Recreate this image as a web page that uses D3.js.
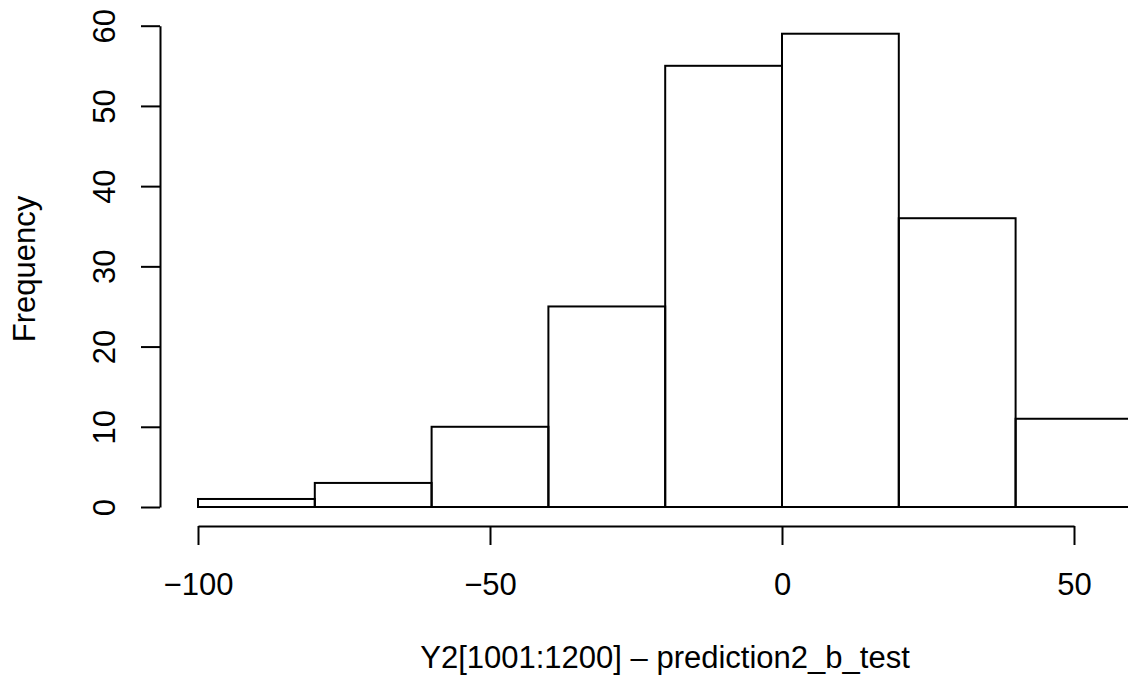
<!DOCTYPE html>
<html>
<head>
  <meta charset="utf-8">
  <style>
  body { margin: 0; background: #fff; }
  text { font-family: "Liberation Sans", Arial, Helvetica, sans-serif; fill: #000; }
  </style>
  <script src="https://d3js.org/d3.v7.min.js"></script>
</head>
<body>
<script>
// histogram bins (left edges, width 20) and counts
var binStarts = [-100, -80, -60, -40, -20, 0, 20, 40];
var binWidth = 20;
var counts = [1, 3, 10, 25, 55, 59, 36, 11];
var xTicks = [-100, -50, 0, 50];
var yTicks = [0, 10, 20, 30, 40, 50, 60];
var xTitle = "Y2[1001:1200] \u2013 prediction2_b_test";
var yTitle = "Frequency";

var canvasWidth = 1128, canvasHeight = 682;
var fontSize = 31;

var svg = d3.select("body").append("svg")
    .attr("width", canvasWidth)
    .attr("height", canvasHeight);

var x = d3.scaleLinear().domain([-100, 50]).range([198, 1074]);
var y = d3.scaleLinear().domain([0, 60]).range([507, 25.7]);

var bars = binStarts.map(function(s, i) { return {x0: s, x1: s + binWidth, n: counts[i]}; });

svg.append("g").selectAll("rect")
    .data(bars)
    .enter().append("rect")
    .attr("x", function(d) { return x(d.x0); })
    .attr("y", function(d) { return y(d.n); })
    .attr("width", function(d) { return x(d.x1) - x(d.x0); })
    .attr("height", function(d) { return y(0) - y(d.n); })
    .attr("fill", "none")
    .attr("stroke", "#000")
    .attr("stroke-width", 2);

// x axis
var xAxis = svg.append("g")
    .attr("transform", "translate(0,526)")
    .call(d3.axisBottom(x).tickValues(xTicks).tickSize(19).tickSizeOuter(0));
xAxis.select(".domain").attr("stroke-width", 2);
xAxis.selectAll(".tick line").attr("stroke-width", 2);
xAxis.selectAll(".tick text")
    .attr("y", 69).attr("dy", 0)
    .attr("font-size", fontSize)
    .attr("font-family", "Liberation Sans, Arial, sans-serif");

// y axis
var yAxis = svg.append("g")
    .attr("transform", "translate(160,0)")
    .call(d3.axisLeft(y).tickValues(yTicks).tickSize(19).tickSizeOuter(0));
yAxis.select(".domain").attr("stroke-width", 2);
yAxis.selectAll(".tick line").attr("stroke-width", 2);
yAxis.selectAll(".tick text")
    .attr("x", 0).attr("dy", 0)
    .attr("text-anchor", "middle")
    .attr("transform", "translate(-45,0) rotate(-90)")
    .attr("font-size", fontSize)
    .attr("font-family", "Liberation Sans, Arial, sans-serif");

// titles
svg.append("text")
    .attr("x", 665).attr("y", 668)
    .attr("text-anchor", "middle")
    .attr("font-size", fontSize)
    .text(xTitle);

svg.append("text")
    .attr("transform", "translate(35,269) rotate(-90)")
    .attr("text-anchor", "middle")
    .attr("font-size", fontSize)
    .text(yTitle);
</script>
</body>
</html>
